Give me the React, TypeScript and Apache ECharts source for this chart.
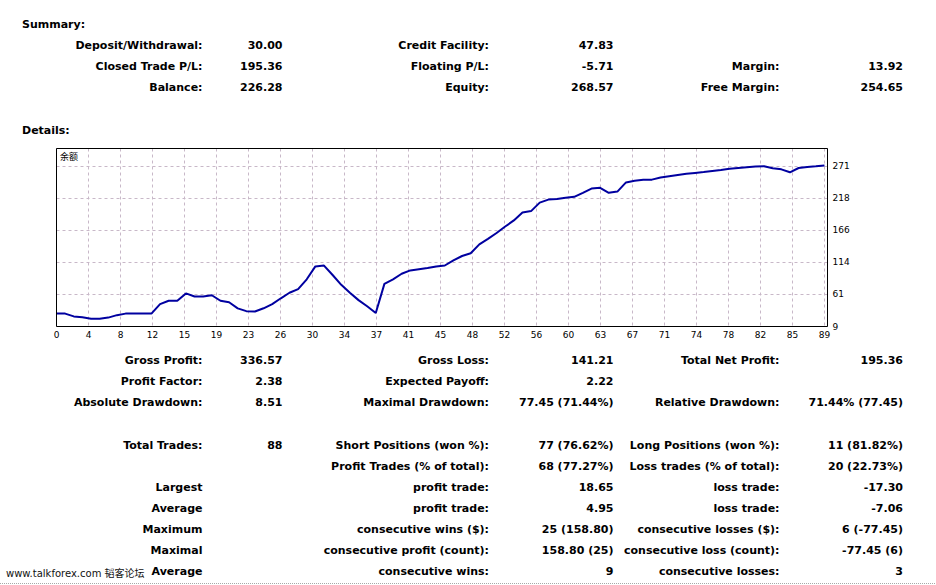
import React, { useEffect, useRef } from 'react';
import * as echarts from 'echarts';

// Balance per trade index
const BALANCE = [
  30.0, 30.0, 25.5, 24.0, 21.5, 21.5, 23.5, 27.5, 30.0, 30.0,
  30.0, 30.0, 45.5, 51.0, 51.0, 63.0, 58.0, 58.0, 60.0, 51.0,
  48.5, 38.5, 34.0, 33.5, 38.7, 45.5, 55.0, 64.0, 70.0, 86.0,
  107.0, 108.4, 93.0, 77.0, 64.0, 52.0, 42.0, 31.0, 78.5, 86.0,
  95.0, 100.5, 102.5, 104.5, 107.0, 108.5, 117.0, 124.0, 128.4, 143.0,
  152.0, 161.5, 172.0, 182.0, 195.0, 197.2, 211.0, 216.0, 217.0, 219.0,
  220.5, 227.0, 234.0, 235.2, 227.0, 229.0, 244.0, 246.8, 248.2, 248.5,
  252.0, 254.0, 256.0, 258.0, 259.5, 261.0, 262.7, 264.2, 266.1, 267.6,
  268.8, 270.0, 270.5, 267.0, 265.3, 260.5, 267.5, 269.3, 270.3, 271.6,
];

const X_TICK_LABELS = ['0', '4', '8', '12', '15', '19', '23', '26', '30', '34', '37', '41', '45', '48', '52', '56', '60', '63', '67', '71', '74', '78', '82', '85', '89'];
const Y_TICK_LABELS = ['9', '61', '114', '166', '218', '271'];
const CHART_TITLE = '余额';
const SECTION_TITLES = ['Summary:', 'Details:'];

const SUMMARY_ROWS = [
  ['Deposit/Withdrawal:', '30.00', 'Credit Facility:', '47.83', '', ''],
  ['Closed Trade P/L:', '195.36', 'Floating P/L:', '-5.71', 'Margin:', '13.92'],
  ['Balance:', '226.28', 'Equity:', '268.57', 'Free Margin:', '254.65'],
];

const DETAIL_ROWS = [
  ['Gross Profit:', '336.57', 'Gross Loss:', '141.21', 'Total Net Profit:', '195.36'],
  ['Profit Factor:', '2.38', 'Expected Payoff:', '2.22', '', ''],
  ['Absolute Drawdown:', '8.51', 'Maximal Drawdown:', '77.45 (71.44%)', 'Relative Drawdown:', '71.44% (77.45)'],
  ['Total Trades:', '88', 'Short Positions (won %):', '77 (76.62%)', 'Long Positions (won %):', '11 (81.82%)'],
  ['', '', 'Profit Trades (% of total):', '68 (77.27%)', 'Loss trades (% of total):', '20 (22.73%)'],
  ['Largest', '', 'profit trade:', '18.65', 'loss trade:', '-17.30'],
  ['Average', '', 'profit trade:', '4.95', 'loss trade:', '-7.06'],
  ['Maximum', '', 'consecutive wins ($):', '25 (158.80)', 'consecutive losses ($):', '6 (-77.45)'],
  ['Maximal', '', 'consecutive profit (count):', '158.80 (25)', 'consecutive loss (count):', '-77.45 (6)'],
  ['Average', '', 'consecutive wins:', '9', 'consecutive losses:', '3'],
];

const WATERMARK = 'www.talkforex.com 韬客论坛';

// layout constants
const COL_RIGHT = [202.5, 282.5, 489, 613.5, 779.5, 903];
const SUMMARY_Y = [45.5, 66.5, 87.5];
const DETAIL_Y = [360.5, 381.5, 402.5, 445, 466.5, 487.5, 508.5, 529.5, 550.5, 571.5];
const FONT_BOLD = 'bold 11px "DejaVu Sans", Verdana, sans-serif';

const X_STEP = 89 / 24;
const Y_MIN = 9;
const Y_STEP = 52.4;

function txt(text: string, x: number, y: number, align: string, font: string, color = '#000') {
  return {
    type: 'text',
    silent: true,
    z: 10,
    style: {
      text, x, y, font, fill: color,
      align, verticalAlign: 'middle',
      textAlign: align, textVerticalAlign: 'middle',
    },
  };
}

export default function App() {
  const ref = useRef<HTMLDivElement>(null);

  useEffect(() => {
    if (!ref.current) return;
    const chart = echarts.init(ref.current, undefined, { renderer: 'svg' });

    const graphics: any[] = [];
    graphics.push(txt(SECTION_TITLES[0], 22, 24.5, 'left', FONT_BOLD));
    graphics.push(txt(SECTION_TITLES[1], 22, 130, 'left', FONT_BOLD));
    SUMMARY_ROWS.forEach((row, r) => {
      row.forEach((cell, c) => {
        if (cell) graphics.push(txt(cell, COL_RIGHT[c], SUMMARY_Y[r], 'right', FONT_BOLD));
      });
    });
    DETAIL_ROWS.forEach((row, r) => {
      row.forEach((cell, c) => {
        if (cell) graphics.push(txt(cell, COL_RIGHT[c], DETAIL_Y[r], 'right', FONT_BOLD));
      });
    });
    graphics.push(txt(WATERMARK, 6, 573, 'left', '10px "DejaVu Sans", "Noto Sans CJK SC", sans-serif', '#111'));
    graphics.push(txt(CHART_TITLE, 60, 156.5, 'left', '9px "Noto Sans CJK SC", sans-serif', '#000'));
    graphics.push({
      type: 'line',
      silent: true,
      shape: { x1: 0, y1: 583.5, x2: 936, y2: 583.5 },
      style: { stroke: '#a8a8a8', lineWidth: 1, lineDash: [1, 1] },
    });

    const option: any = {
      animation: false,
      backgroundColor: '#ffffff',
      grid: {
        left: 56.5,
        right: 108.5,
        top: 148.5,
        bottom: 258.5,
        show: true,
        borderColor: '#000',
        borderWidth: 1,
        backgroundColor: 'transparent',
        z: 5,
      },
      xAxis: {
        type: 'value',
        min: 0,
        max: 89.35,
        interval: X_STEP,
        axisLine: { show: false },
        axisTick: { show: false },
        axisLabel: {
          color: '#000',
          fontSize: 9,
          fontFamily: '"DejaVu Sans", sans-serif',
          margin: 4,
          showMaxLabel: true,
          showMinLabel: true,
          formatter: (v: number) => {
            const k = Math.round(v / X_STEP);
            return Math.abs(v - k * X_STEP) < 0.01 ? (X_TICK_LABELS[k] ?? '') : '';
          },
        },
        splitLine: { show: true, lineStyle: { color: '#c8b8c8', width: 1, type: [3, 3] } },
      },
      yAxis: {
        type: 'value',
        position: 'right',
        min: Y_MIN,
        max: 299.3,
        interval: Y_STEP,
        axisLine: { show: false },
        axisTick: { show: false },
        axisLabel: {
          color: '#000',
          fontSize: 9,
          fontFamily: '"DejaVu Sans", sans-serif',
          margin: 5,
          align: 'left',
          formatter: (v: number) => {
            const k = Math.round((v - Y_MIN) / Y_STEP);
            return Math.abs(v - (Y_MIN + k * Y_STEP)) < 0.01 ? (Y_TICK_LABELS[k] ?? '') : '';
          },
        },
        splitLine: { show: true, lineStyle: { color: '#c8b8c8', width: 1, type: [3, 3] } },
      },
      series: [
        {
          type: 'line',
          data: BALANCE.map((v, i) => [i, v]),
          symbol: 'none',
          silent: true,
          lineStyle: { color: '#0000a0', width: 2 },
          z: 3,
        },
      ],
      graphic: graphics,
    };

    chart.setOption(option);
    return () => chart.dispose();
  }, []);

  return (
    <div
      ref={ref}
      style={{ position: 'fixed', left: 0, top: 0, width: 936, height: 585, background: '#fff' }}
    />
  );
}
